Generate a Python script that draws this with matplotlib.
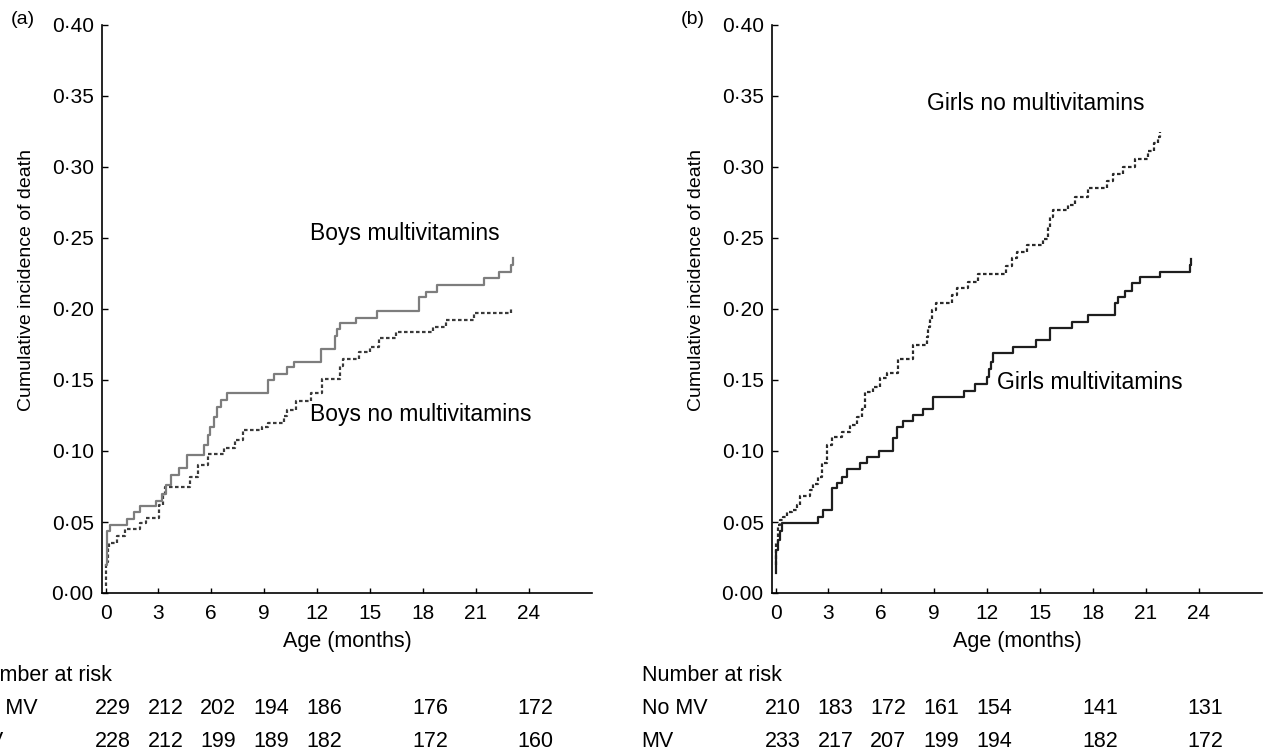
import numpy as np
import matplotlib
matplotlib.use("Agg")
import matplotlib.pyplot as plt
from matplotlib.ticker import FuncFormatter, MultipleLocator

plt.rcParams['font.family'] = ['Liberation Sans', 'DejaVu Sans']

# (a) boys: step curves, months / cumulative incidence
boys_mv_t = [0.0, 0.1, 0.25, 1.2, 1.6, 1.96, 2.84, 3.2, 3.45, 3.7, 4.16, 4.6, 5.6, 5.8, 5.95,
             6.15, 6.35, 6.55, 6.9, 9.2, 9.55, 10.3, 10.7, 12.2, 13.0, 13.15, 13.3, 14.2, 15.4,
             17.8, 18.2, 18.8, 21.5, 22.3, 23.0, 23.1]
boys_mv_v = [0.020, 0.044, 0.048, 0.052, 0.057, 0.061, 0.065, 0.070, 0.076, 0.083, 0.088, 0.097,
             0.104, 0.111, 0.117, 0.124, 0.131, 0.136, 0.141, 0.150, 0.154, 0.159, 0.163, 0.172,
             0.181, 0.186, 0.190, 0.194, 0.1986, 0.2085, 0.212, 0.217, 0.222, 0.226, 0.231, 0.236]

boys_nomv_t = [0.0, 0.05, 0.12, 0.2, 0.63, 1.08, 1.96, 2.3, 3.06, 3.25, 3.4, 4.8, 5.27, 5.8, 6.7,
               7.36, 7.8, 8.9, 9.2, 10.1, 10.3, 10.8, 11.65, 12.3, 13.3, 13.5, 14.4, 15.0, 15.5,
               16.5, 18.6, 19.3, 20.9, 23.0]
boys_nomv_v = [0.005, 0.022, 0.032, 0.035, 0.040, 0.045, 0.049, 0.053, 0.062, 0.070, 0.075, 0.082,
               0.090, 0.098, 0.102, 0.108, 0.115, 0.117, 0.120, 0.125, 0.129, 0.135, 0.141, 0.151,
               0.160, 0.165, 0.170, 0.1735, 0.1795, 0.1835, 0.1875, 0.192, 0.197, 0.2015]

# (b) girls
girls_mv_t = [0.0, 0.05, 0.15, 0.25, 0.35, 2.43, 2.71, 3.19, 3.47, 3.75, 4.07, 4.79, 5.17, 5.87,
              6.65, 6.87, 7.25, 7.82, 8.38, 8.95, 10.69, 11.32, 12.0, 12.1, 12.2, 12.35, 13.5,
              14.8, 15.57, 16.8, 17.74, 19.26, 19.45, 19.82, 20.2, 20.68, 21.8, 23.5, 23.6]
girls_mv_v = [0.014, 0.030, 0.037, 0.044, 0.0493, 0.0537, 0.0585, 0.0738, 0.0772, 0.0819, 0.0871,
              0.0913, 0.096, 0.1002, 0.109, 0.1171, 0.1213, 0.1254, 0.1296, 0.1383, 0.1425, 0.147,
              0.152, 0.158, 0.163, 0.1688, 0.1735, 0.1782, 0.1866, 0.191, 0.1958, 0.204, 0.2087,
              0.213, 0.2181, 0.2223, 0.2263, 0.231, 0.2355]

girls_nomv_t = [0.0, 0.05, 0.15, 0.26, 0.45, 0.64, 0.92, 1.2, 1.39, 1.96, 2.15, 2.43, 2.62, 2.9,
                3.19, 3.75, 4.23, 4.6, 4.89, 5.08, 5.55, 5.93, 6.3, 6.97, 7.82, 8.58, 8.65, 8.75,
                8.86, 9.1, 9.43, 10.0, 10.28, 10.94, 11.5, 13.1, 13.4, 13.7, 14.25, 15.2, 15.47,
                15.6, 15.76, 16.6, 16.99, 17.74, 18.79, 19.16, 19.73, 20.4, 21.15, 21.5, 21.7, 21.8]
girls_nomv_v = [0.020, 0.035, 0.048, 0.0514, 0.0537, 0.0573, 0.0585, 0.062, 0.068, 0.0725, 0.0768,
                0.082, 0.0913, 0.104, 0.110, 0.1136, 0.1183, 0.1242, 0.1296, 0.1418, 0.1453,
                0.1512, 0.1549, 0.1646, 0.1745, 0.180, 0.187, 0.193, 0.199, 0.2045, 0.2045, 0.210,
                0.215, 0.219, 0.2246, 0.230, 0.236, 0.240, 0.2451, 0.249, 0.258, 0.265, 0.270,
                0.2732, 0.2789, 0.2852, 0.290, 0.295, 0.3002, 0.3056, 0.311, 0.317, 0.321, 0.325]

# number at risk
risk_times = [0, 3, 6, 9, 12, 18, 24]
boys_nomv_risk = [229, 212, 202, 194, 186, 176, 172]
boys_mv_risk = [228, 212, 199, 189, 182, 172, 160]
girls_nomv_risk = [210, 183, 172, 161, 154, 141, 131]
girls_mv_risk = [233, 217, 207, 199, 194, 182, 172]

W, H = 1265, 754
fig = plt.figure(figsize=(W / 100, H / 100), dpi=100)
fig.patch.set_facecolor('white')

def fmt(v, pos):
    return f"{v:.2f}".replace('.', '\u00b7')

def setup(ax, tag):
    ax.set_xlim(-0.2, 27.6)
    ax.set_ylim(0, 0.40)
    for s in ('top', 'right'):
        ax.spines[s].set_visible(False)
    for s in ('left', 'bottom'):
        ax.spines[s].set_linewidth(1.2)
    ax.set_xticks(np.arange(0, 25, 3))
    ax.yaxis.set_major_locator(MultipleLocator(0.05))
    ax.yaxis.set_major_formatter(FuncFormatter(fmt))
    ax.tick_params(axis='y', direction='in', length=4, width=1, pad=6, labelsize=15)
    ax.tick_params(axis='x', direction='in', length=3.5, width=1, pad=8, labelsize=15)
    ax.set_xlabel('Age (months)', fontsize=15.5, labelpad=6)
    ax.set_ylabel('Cumulative incidence of death', fontsize=14)
    ax.yaxis.set_label_coords(-0.137, 0.551)
    ax.text(-0.161, 1.009, tag, transform=ax.transAxes, fontsize=14,
            ha='center', va='center')

def risk_table(ax, row1, row2):
    tr = ax.get_xaxis_transform()
    ax.text(-7.6, -0.146, 'Number at risk', transform=tr, fontsize=15.5,
            ha='left', va='center', clip_on=False)
    ax.text(-7.6, -0.204, 'No MV', transform=tr, fontsize=15.5,
            ha='left', va='center', clip_on=False)
    ax.text(-7.6, -0.261, 'MV', transform=tr, fontsize=15.5,
            ha='left', va='center', clip_on=False)
    for t, a, b in zip(risk_times, row1, row2):
        ax.text(t + 0.4, -0.204, str(a), transform=tr, fontsize=15.5,
                ha='center', va='center', clip_on=False)
        ax.text(t + 0.4, -0.261, str(b), transform=tr, fontsize=15.5,
                ha='center', va='center', clip_on=False)

dash = (0, (1.6, 1.1))

ax1 = fig.add_axes([102 / W, 1 - 593 / H, 490 / W, 568 / H])
setup(ax1, '(a)')
ax1.step(boys_nomv_t, boys_nomv_v, where='post', color='#3a3a3a', lw=1.6, linestyle=dash)
ax1.step(boys_mv_t, boys_mv_v, where='post', color='#7d7d7d', lw=1.6)
ax1.text(11.6, 0.2535, 'Boys multivitamins', fontsize=16.5, ha='left', va='center')
ax1.text(11.6, 0.1254, 'Boys no multivitamins', fontsize=16.5, ha='left', va='center')
risk_table(ax1, boys_nomv_risk, boys_mv_risk)

ax2 = fig.add_axes([772 / W, 1 - 593 / H, 490 / W, 568 / H])
setup(ax2, '(b)')
ax2.step(girls_nomv_t, girls_nomv_v, where='post', color='#2a2a2a', lw=1.6, linestyle=dash)
ax2.step(girls_mv_t, girls_mv_v, where='post', color='#1e1e1e', lw=1.6)
ax2.text(8.6, 0.345, 'Girls no multivitamins', fontsize=16.5, ha='left', va='center')
ax2.text(12.55, 0.148, 'Girls multivitamins', fontsize=16.5, ha='left', va='center')
risk_table(ax2, girls_nomv_risk, girls_mv_risk)

fig.savefig('out.png', dpi=100, facecolor='white')
